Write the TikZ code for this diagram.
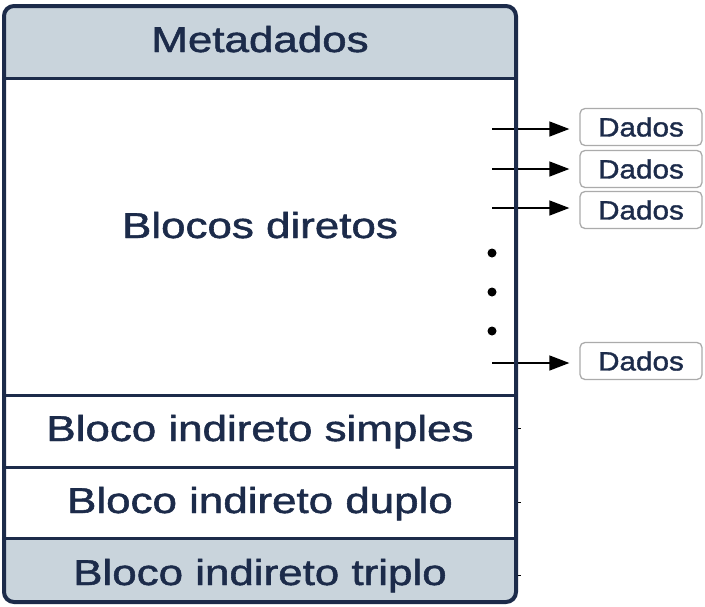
\documentclass[tikz,border=0pt]{standalone}
\usepackage{fontspec}
\setmainfont{Liberation Sans}
\newfontfamily\medio{Liberation Sans}[FakeBold=1.3]
\usetikzlibrary{arrows.meta, positioning}
\definecolor{azul}{HTML}{1C2B4A}
\definecolor{fundo}{HTML}{C9D4DC}
\definecolor{cinza}{HTML}{ABABAB}
\tikzset{> = { Triangle[length = 20pt, width = 15pt] }}
\tikzset{
	rotulo/.style = {text = azul, anchor = base, font = \medio\fontsize{36}{42}\selectfont},
	dados/.style = {draw = cinza, line width = 1.3pt, rounded corners = 5pt, text = azul,
		minimum width = 122pt, minimum height = 37pt, font = \medio\fontsize{26.5}{32}\selectfont},
	divisa/.style = {draw = azul, line width = 3pt}
}
\newcommand{\largo}[1]{\scalebox{1.22}[1]{#1}}

\begin{document}
\begin{tikzpicture}[x = 1pt, y = -1pt]
	\useasboundingbox (0, 0) rectangle (705, 606);
	\begin{scope}
		\clip [rounded corners = 10pt] (4, 6) rectangle (516, 602);
		\fill [fundo] (4, 6) rectangle (516, 78);
		\fill [fundo] (4, 538) rectangle (516, 602);
	\end{scope}

	\node [rotulo] (meta) at (260, 52) {\largo{Metadados}};
	\node [rotulo] (diretos) at (260, 238) {\largo{Blocos diretos}};
	\node [rotulo] (simples) at (260, 441) {\largo{Bloco indireto simples}};
	\node [rotulo] (duplo) at (260, 513) {\largo{Bloco indireto duplo}};
	\node [rotulo] (triplo) at (260, 585) {\largo{Bloco indireto triplo}};

	\node [dados] (d1) at (641, 127) {\scalebox{1.12}[1]{Dados}};
	\node [dados] (d2) at (641, 169) {\scalebox{1.12}[1]{Dados}};
	\node [dados] (d3) at (641, 210) {\scalebox{1.12}[1]{Dados}};
	\node [dados] (d4) at (641, 361) {\scalebox{1.12}[1]{Dados}};

	\coordinate (a1) at (492, 129);
	\coordinate (a2) at (492, 169);
	\coordinate (a3) at (492, 208);
	\coordinate (a4) at (492, 363);
	\foreach \i in {1, ..., 4}
		\draw [->, line width = 1.4pt, shorten > = 10pt] (a\i) -- (a\i -| d\i.west);

	\foreach \y in {253, 292, 331}
		\fill (492, \y) circle (4.5pt);

	\foreach \y in {428, 502, 575}
		\draw [line width = 1pt] (516, \y) -- ++(5, 0);

	\draw [divisa] (4, 78) -- (516, 78);
	\draw [divisa] (4, 395) -- (516, 395);
	\draw [divisa] (4, 467) -- (516, 467);
	\draw [divisa] (4, 538) -- (516, 538);
	\draw [draw = azul, line width = 4pt, rounded corners = 10pt] (4, 6) rectangle (516, 602);
\end{tikzpicture}
\end{document}
